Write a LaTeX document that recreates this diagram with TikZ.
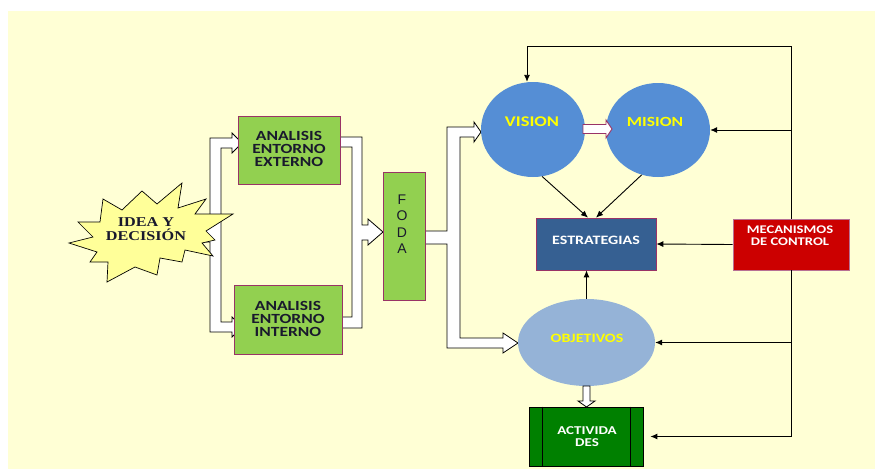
\documentclass[tikz,border=0pt]{standalone}
\usepackage{fontspec}
\newfontfamily\calfont[FakeStretch=1.25]{Carlito}
\newfontfamily\serfont[FakeStretch=1.2]{Liberation Serif}
\newfontfamily\arifont{Liberation Sans}
\usetikzlibrary{arrows.meta,calc,shapes.geometric}
\definecolor{bgy}{RGB}{255,255,213}
\definecolor{lgreen}{RGB}{146,208,80}
\definecolor{mauve}{RGB}{153,51,102}
\definecolor{vblue}{RGB}{85,142,213}
\definecolor{oblue}{RGB}{149,179,215}
\definecolor{sblue}{RGB}{54,96,146}
\definecolor{cred}{RGB}{204,0,0}
\definecolor{dgreen}{RGB}{0,128,0}
\definecolor{staryel}{RGB}{255,255,153}
\definecolor{txtyel}{RGB}{255,255,0}
\definecolor{dtext}{RGB}{25,25,45}
\tikzset{
  gbox/.style={rectangle, draw=mauve, line width=0.7pt, fill=lgreen, inner sep=0pt},
  ell/.style={ellipse, inner sep=0pt},
  txt/.style={inner sep=0pt, align=center},
  arr/.style={draw=black, line width=0.9pt, -{Latex[length=7pt,width=6pt]}},
  fork/.style={draw=black, line width=0.8pt, fill=white, line join=miter},
  hollowp/.style={draw=mauve, line width=0.9pt, fill=white, line join=miter},
}
\begin{document}
\begin{tikzpicture}[x=1pt,y=-1pt]
\useasboundingbox (0,0) rectangle (875,469);
\fill[white] (0,0) rectangle (875,469);
\fill[bgy] (8,11) rectangle (875,469);

% block forks
\draw[fork] (198,228) -- (210,228) -- (210,138) -- (232,138) -- (232,133) -- (242,143) -- (232,153) -- (232,148) -- (221,148) -- (221,322) -- (232,322) -- (232,317) -- (242,327) -- (232,337) -- (232,332) -- (210,332) -- (210,242) -- (198,242) -- cycle;
\draw[fork] (340,137) -- (362,137) -- (362,225) -- (368,225) -- (368,219) -- (383,232) -- (368,245) -- (368,240) -- (362,240) -- (362,328) -- (340,328) -- (340,317) -- (352,317) -- (352,147) -- (340,147) -- cycle;
\draw[fork] (425,231) -- (447,231) -- (447,127) -- (474,127) -- (474,122) -- (481,132) -- (474,142) -- (474,137) -- (460,137) -- (460,338) -- (503,338) -- (503,333) -- (518,343) -- (503,353) -- (503,348) -- (447,348) -- (447,244) -- (425,244) -- cycle;

% star
\draw[fill=staryel, line width=0.7pt, line join=miter] (103,199) -- (122,210) -- (142,191) -- (157,204) -- (182,183) -- (178,208) -- (206,199) -- (195,214) -- (233,214) -- (206,231) -- (215,240) -- (202,243) -- (213,256) -- (185,250) -- (182,262) -- (160,258) -- (157,275) -- (135,267) -- (107,282) -- (108,262) -- (90,262) -- (97,252) -- (69,243) -- (93,237) -- (78,222) -- (100,222) -- cycle;
\node[txt, text=dtext, font=\serfont\bfseries\fontsize{13.5}{14}\selectfont] (ideaT) at (146,229) {IDEA Y\\DECISIÓN};

% boxes
\node[gbox, minimum width=102pt, minimum height=68pt] (ext) at (289,150) {};
\node[gbox, minimum width=108pt, minimum height=69pt] (int) at (288,319.5) {};
\node[gbox, minimum width=42pt, minimum height=128pt] (foda) at (404,236) {};
\node[txt, text=dtext, font=\calfont\bfseries\fontsize{14}{13}\selectfont] (extT) at (289,149) {ANALISIS\\ENTORNO\\EXTERNO};
\node[txt, text=dtext, font=\calfont\bfseries\fontsize{14}{13}\selectfont] (intT) at (288,319) {ANALISIS\\ENTORNO\\INTERNO};
\node[txt, text=dtext, font=\arifont\fontsize{14}{16.5}\selectfont] (fodaT) at (402,224) {F\\O\\D\\A};

\node[ell, fill=vblue, minimum width=104pt, minimum height=95pt] (vision) at (533,129.5) {};
\node[ell, fill=vblue, minimum width=104pt, minimum height=94pt] (mision) at (658,130) {};
\node[rectangle, draw=mauve, line width=0.7pt, fill=sblue, minimum width=120pt, minimum height=52pt, inner sep=0pt] (est) at (596,244) {};
\node[rectangle, draw=mauve!70, line width=0.7pt, fill=cred, minimum width=116pt, minimum height=51pt, inner sep=0pt] (mec) at (791,244.5) {};
\node[ell, fill=oblue, minimum width=137pt, minimum height=87pt] (obj) at (586.5,342.5) {};
\node[rectangle, draw=black, line width=0.8pt, fill=dgreen, minimum width=114pt, minimum height=59pt, inner sep=0pt] (act) at (586,436.5) {};
\draw[black, line width=0.8pt] ([xshift=14pt]act.north west) -- ([xshift=14pt]act.south west);
\draw[black, line width=0.8pt] ([xshift=-13pt]act.north east) -- ([xshift=-13pt]act.south east);

% hollow arrows
\draw[hollowp] (583,124.5) -- (606,124.5) -- (606,120) -- (612,129) -- (606,138) -- (606,133.5) -- (583,133.5) -- cycle;
\draw[fork] (583,386) -- (590,386) -- (590,401) -- (595,401) -- (586.5,407) -- (578,401) -- (583,401) -- cycle;

% texts
\node[txt, text=txtyel, font=\calfont\bfseries\fontsize{14.8}{15}\selectfont] (visionT) at (532,122) {VISION};
\node[txt, text=txtyel, font=\calfont\bfseries\fontsize{14}{15}\selectfont] (misionT) at (655,122) {MISION};
\node[txt, text=white, font=\calfont\bfseries\fontsize{12.8}{13}\selectfont] (estT) at (596,240) {ESTRATEGIAS};
\node[txt, text=white, font=\calfont\bfseries\fontsize{11.7}{12}\selectfont] (mecT) at (790,236) {MECANISMOS\\DE CONTROL};
\node[txt, text=txtyel, font=\calfont\bfseries\fontsize{12.8}{13}\selectfont] (objT) at (587,338) {OBJETIVOS};
\node[txt, text=white, font=\calfont\bfseries\fontsize{12}{11.5}\selectfont] (actT) at (587,436.5) {ACTIVIDA\\DES};

% control connectors
\coordinate (vtop) at (527,46);
\draw[arr] (mec.north) |- (vtop) -- (vtop |- vision.north);
\draw[arr] (mec.north |- mision.east) -- (mision.east);
\draw[arr] (mec.west) -- (est.east);
\draw[arr] (mec.south |- obj.east) -- (obj.east);
\draw[arr, shorten >=7pt] (mec.south) |- (act.east);

% to strategies
\draw[arr] (vision.-79) -- ([xshift=-8pt]est.north);
\draw[arr] (mision.-110) -- (est.north);
\draw[arr] (obj.north) -- (obj.north |- est.south);
\end{tikzpicture}
\end{document}
